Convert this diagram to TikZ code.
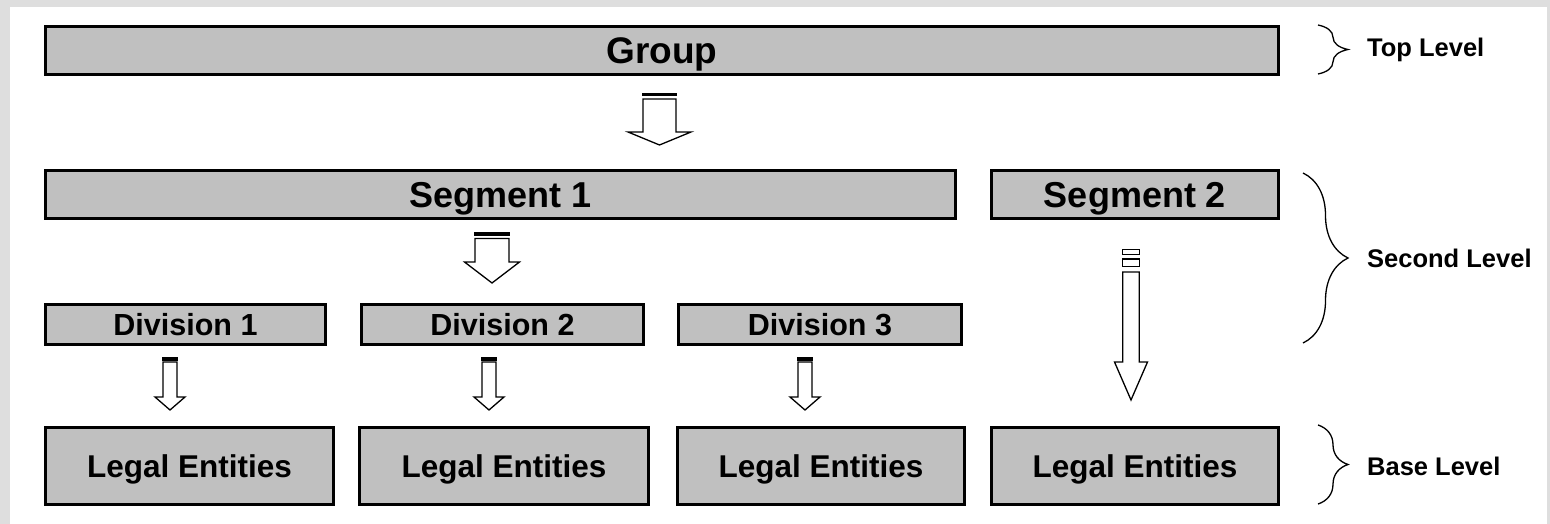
\documentclass[tikz,border=0pt]{standalone}
\usepackage{fontspec}
\setmainfont{Liberation Sans}
\usetikzlibrary{decorations.pathreplacing}
\definecolor{boxgrey}{HTML}{C0C0C0}
\definecolor{framegrey}{HTML}{DEDEDE}

\tikzset{
  box/.style={draw,line width=3pt,fill=boxgrey,inner sep=0pt,font=\bfseries,text depth=0pt},
  arrowline/.style={draw,line width=1.3pt,fill=white,line join=miter},
  levelbrace/.style={line width=1.3pt,decorate,decoration={brace,aspect=0.5,amplitude=#1}},
  leveltext/.style={anchor=west,inner sep=0pt,font=\fontsize{25.5}{25.5}\bfseries\selectfont}
}

% block arrow: x, shaft top, head start, tip, half shaft, half head
\newcommand{\blkarrow}[6]{%
  \draw[arrowline] (#1-#5,#2) -- (#1-#5,#3) -- (#1-#6,#3) -- (#1,#4)
    -- (#1+#6,#3) -- (#1+#5,#3) -- (#1+#5,#2) -- cycle;}
% black cap on top of a block arrow: x, top, half shaft
\newcommand{\blkcap}[3]{%
  \fill (#1-#3-0.6,#2) rectangle (#1+#3+0.6,#2+3.5);}

\begin{document}
\begin{tikzpicture}[x=1pt,y=-1pt]
\useasboundingbox (0,0) rectangle (1550,524);
\fill[framegrey] (0,0) rectangle (1550,524);
\fill[white] (10,7) rectangle (1547,524);

% boxes
\node[box,minimum width=1233,minimum height=48,font=\fontsize{37}{37}\bfseries\selectfont] (grp) at (662,50.5) {Group};
\node[box,minimum width=910,minimum height=48,font=\fontsize{36}{36}\bfseries\selectfont] (seg1) at (500.5,194.5) {Segment 1};
\node[box,minimum width=287,minimum height=48,font=\fontsize{36}{36}\bfseries\selectfont] (seg2) at (1135,194.5) {Segment 2};
\node[box,minimum width=280,minimum height=40,font=\fontsize{30.5}{30.5}\bfseries\selectfont] (div1) at (185.5,324.5) {Division 1};
\node[box,minimum width=282,minimum height=40,font=\fontsize{30.5}{30.5}\bfseries\selectfont] (div2) at (502.5,324.5) {Division 2};
\node[box,minimum width=283,minimum height=40,font=\fontsize{30.5}{30.5}\bfseries\selectfont] (div3) at (820,324.5) {Division 3};
\node[box,minimum width=288,minimum height=77,font=\fontsize{31.5}{31.5}\bfseries\selectfont] (le1) at (189.5,466) {Legal Entities};
\node[box,minimum width=289,minimum height=77,font=\fontsize{31.5}{31.5}\bfseries\selectfont] (le2) at (504,466) {Legal Entities};
\node[box,minimum width=287,minimum height=77,font=\fontsize{31.5}{31.5}\bfseries\selectfont] (le3) at (821,466) {Legal Entities};
\node[box,minimum width=287,minimum height=77,font=\fontsize{31.5}{31.5}\bfseries\selectfont] (le4) at (1135,466) {Legal Entities};

% block arrows
\blkarrow{659.5}{99}{132}{145}{16.5}{31.5}
\blkcap{659.5}{93}{16.5}
\blkarrow{492}{238.5}{262}{283}{17}{27.5}
\blkcap{492}{232}{17}
\foreach \xa in {170,489,805}{
  \blkarrow{\xa}{362}{397}{410}{7}{15}
  \blkcap{\xa}{357}{7}
}
\draw[arrowline] (1122.7,249.5) rectangle (1139.3,254.5);
\draw[arrowline] (1122.7,259) rectangle (1139.3,266.5);
\blkarrow{1131}{272}{362}{400}{8.3}{16.5}

% level braces
\draw[levelbrace=30pt] (1318,25) -- (1318,74);
\node[leveltext] (top) at (1367,50) {Top Level};
\draw[levelbrace=45pt] (1303,173) -- (1303,343);
\node[leveltext] (second) at (1367,258) {Second Level};
\draw[levelbrace=30pt] (1318,425) -- (1318,504);
\node[leveltext] (base) at (1367,466) {Base Level};
\end{tikzpicture}
\end{document}
